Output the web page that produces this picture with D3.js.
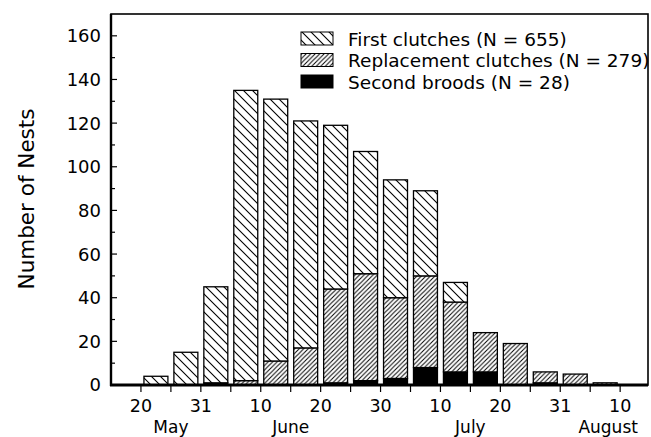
<!DOCTYPE html>
<html>
<head>
<meta charset="utf-8">
<script src="https://cdn.jsdelivr.net/npm/d3@7/dist/d3.min.js"></script>
<style>
html,body{margin:0;padding:0;background:#fff;}
svg{display:block;font-family:"DejaVu Sans","Liberation Sans",sans-serif;}
</style>
</head>
<body>
<svg id="chart" width="651" height="437"></svg>
<script>
// Five-day periods (bars)
const periods = ["May 21-25","May 26-31","Jun 1-5","Jun 6-10","Jun 11-15","Jun 16-20","Jun 21-25","Jun 26-30",
                 "Jul 1-5","Jul 6-10","Jul 11-15","Jul 16-20","Jul 21-25","Jul 26-31","Aug 1-5","Aug 6-10"];
const secondBroods   = [0,0,1,0,0,0,1,2,3,8,6,6,0,1,0,0];
const replacement    = [0,0,0,2,11,17,43,49,37,42,32,18,19,5,5,1];
const firstClutches  = [4,15,44,133,120,104,75,56,54,39,9,0,0,0,0,0];
const seriesNames = ["Second broods (N = 28)","Replacement clutches (N = 279)","First clutches (N = 655)"];
const yTicks = [0,20,40,60,80,100,120,140,160];
const xTickLabels = ["20","31","10","20","30","10","20","31","10"];
const xTickPos = [0,2,4,6,8,10,12,14,16];
const months = ["May","June","July","August"];
const monthPos = [1,5,11,15.6];

const svg = d3.select("#chart");
const L=111, R=648, T=14, B=385;
const x = d3.scaleLinear().domain([-1,16.93]).range([L,R]);
const y = d3.scaleLinear().domain([0,170]).range([B,T]);

const defs = svg.append("defs");
const p1 = defs.append("pattern").attr("id","hatchFirst").attr("patternUnits","userSpaceOnUse")
  .attr("width",9).attr("height",9);
p1.append("rect").attr("width",9).attr("height",9).attr("fill","#fff");
p1.append("path").attr("d","M-1,-1 L10,10 M-1,8 L1,10 M8,-1 L10,1").attr("stroke","#000").attr("stroke-width",1.1);
const p2 = defs.append("pattern").attr("id","hatchRepl").attr("patternUnits","userSpaceOnUse")
  .attr("width",4.5).attr("height",4.5);
p2.append("rect").attr("width",4.5).attr("height",4.5).attr("fill","#fff");
p2.append("path").attr("d","M-1,5.5 L5.5,-1 M-1,1 L1,-1 M3.5,5.5 L5.5,3.5").attr("stroke","#000").attr("stroke-width",1);
const fills = ["#000","url(#hatchRepl)","url(#hatchFirst)"];

const rows = periods.map((p,i)=>({p, i, s: secondBroods[i], r: replacement[i], f: firstClutches[i]}));
const stack = d3.stack().keys(["s","r","f"])(rows);

const bw = 0.8;
stack.forEach((layer, li) => {
  svg.append("g").selectAll("rect").data(layer.filter(d => d[1] > d[0])).join("rect")
    .attr("x", d => x(d.data.i + (1-bw)/2))
    .attr("width", d => x(bw) - x(0))
    .attr("y", d => y(d[1]))
    .attr("height", d => y(d[0]) - y(d[1]))
    .attr("fill", fills[li])
    .attr("stroke", "#000")
    .attr("stroke-width", 1.3);
});

// frame
svg.append("rect").attr("x",L).attr("y",T).attr("width",R-L).attr("height",B-T)
  .attr("fill","none").attr("stroke","#000").attr("stroke-width",1.6);

// y axis (ticks inward)
const yg = svg.append("g");
yg.selectAll("line").data(d3.range(10,170,10)).join("line")
  .attr("x1",L).attr("x2",d => L + (d%20===0 ? 6 : 4))
  .attr("y1",d=>y(d)).attr("y2",d=>y(d)).attr("stroke","#000").attr("stroke-width",1.2);
yg.selectAll("text").data(yTicks).join("text")
  .attr("x",101).attr("y",d=>y(d)).attr("dy","0.36em").attr("text-anchor","end")
  .attr("font-size",18).text(d=>d);
svg.append("line").attr("x1",L).attr("x2",L).attr("y1",T).attr("y2",B+1).attr("stroke","#000").attr("stroke-width",2.4);

// x axis
const xg = svg.append("g");
xg.selectAll("line").data(d3.range(0,17)).join("line")
  .attr("x1",d=>x(d)).attr("x2",d=>x(d)).attr("y1",B).attr("y2",B+7)
  .attr("stroke","#000").attr("stroke-width",1.2);
xg.selectAll("text.tl").data(xTickPos).join("text").attr("class","tl")
  .attr("x",d=>x(d)).attr("y",412).attr("text-anchor","middle").attr("font-size",17.5)
  .text((d,i)=>xTickLabels[i]);
xg.selectAll("text.ml").data(months).join("text").attr("class","ml")
  .attr("x",(d,i)=>x(monthPos[i])).attr("y",433).attr("text-anchor","middle").attr("font-size",17)
  .text(d=>d);
svg.append("line").attr("x1",L-1).attr("x2",R).attr("y1",B).attr("y2",B).attr("stroke","#000").attr("stroke-width",2.8);

// y label
svg.append("text").attr("transform","translate(34,199) rotate(-90)").attr("text-anchor","middle")
  .attr("font-size",21.5).text("Number of Nests");

// legend
const legOrder = [2,1,0];
const lg = svg.append("g");
legOrder.forEach((si,k) => {
  const yy = 39 + k*21.5;
  lg.append("rect").attr("x",301).attr("y",yy-7).attr("width",32).attr("height",13)
    .attr("fill",fills[si]).attr("stroke","#000").attr("stroke-width",1);
  lg.append("text").attr("x",348).attr("y",yy).attr("dy","0.36em").attr("font-size",18.5)
    .text(seriesNames[si]);
});
</script>
</body>
</html>
